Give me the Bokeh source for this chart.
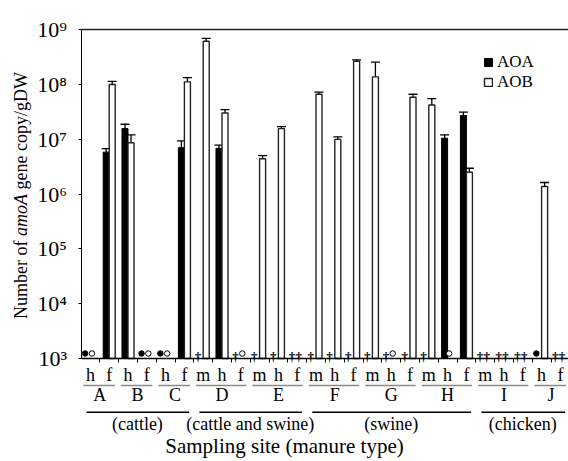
import math
from bokeh.plotting import figure
from bokeh.models import (Range1d, LinearAxis, FixedTicker, ColumnDataSource, Whisker, TeeHead,
                          Label, Legend, LegendItem)
from bokeh.core.properties import value
from bokeh.embed import file_html
from bokeh.resources import INLINE

# ---------------- data ----------------
sites = ["A", "A", "B", "B", "C", "C", "D", "D", "D", "E", "E", "E", "F", "F", "F",
         "G", "G", "G", "H", "H", "H", "I", "I", "I", "J", "J"]
samples = ["h", "f", "h", "f", "h", "f", "m", "h", "f", "m", "h", "f", "m", "h", "f",
           "m", "h", "f", "m", "h", "f", "m", "h", "f", "h", "f"]
site_names = ["A", "B", "C", "D", "E", "F", "G", "H", "I", "J"]
manure_types = ["(cattle)", "(cattle and swine)", "(swine)", "(chicken)"]
manure_sites = [["A", "B", "C"], ["D", "E"], ["F", "G", "H"], ["I", "J"]]

aoa_mean = [None, 5.8e6, 1.56e7, None, None, 7.0e6, None, 6.8e6, None, None, None, None, None,
            None, None, None, None, None, None, 1.04e7, 2.7e7, None, None, None, None, None]
aoa_upper = [None, 6.7e6, 1.87e7, None, None, 9.3e6, None, 7.8e6, None, None, None, None, None,
             None, None, None, None, None, None, 1.2e7, 3.1e7, None, None, None, None, None]
aob_mean = [None, 9.9e7, 8.6e6, None, None, 1.11e8, 6.1e8, 3.0e7, None, 4.4e6, 1.56e7, None, 6.6e7,
            9.9e6, 2.64e8, 1.37e8, None, 5.8e7, 4.2e7, None, 2.5e6, None, None, None, 1.37e6, None]
aob_upper = [None, 1.13e8, 1.2e7, None, None, 1.32e8, 6.9e8, 3.47e7, None, 5.0e6, 1.7e7, None, 7.2e7,
             1.1e7, 2.8e8, 2.54e8, None, 6.6e7, 5.5e7, None, 2.95e6, None, None, None, 1.62e6, None]
# symbols drawn at the baseline when no bar is shown
aoa_mark = ["●", "", "", "●", "●", "", "†", "", "†", "†", "†", "†", "†", "†", "†", "†", "†", "†",
            "†", "", "", "†", "†", "†", "●", "†"]
aob_mark = ["○", "", "", "○", "○", "", "", "", "○", "", "", "†", "", "", "", "", "○", "", "",
            "○", "", "†", "†", "†", "", "†"]
y_ticks = [1e3, 1e4, 1e5, 1e6, 1e7, 1e8, 1e9]
y_tick_labels = ["10³", "10⁴", "10⁵", "10⁶", "10⁷", "10⁸", "10⁹"]

# ---------------- layout (pixels) ----------------
W, H = 568, 461
X0_PX, PPU = 80.5, 18.8          # x of group 0 left edge, pixels per group
Y_TOP_PX, Y_BOT_PX = 29.0, 358.0  # pixel rows of 10^9 and 10^3
DEC = (Y_BOT_PX - Y_TOP_PX) / 6.0
SERIF = "Liberation Serif"

def y_at(py):
    """data value shown at pixel row py"""
    return 10 ** (9 - (py - Y_TOP_PX) / DEC)

x_start = -X0_PX / PPU
x_end = (W - X0_PX) / PPU

n = len(samples)
centers = [i + 0.5 for i in range(n)]

p = figure(width=W, height=H, output_backend="svg", toolbar_location=None,
           x_range=Range1d(x_start, x_end), y_range=Range1d(y_at(H), y_at(0)),
           y_axis_type="log", x_axis_type=None,
           min_border=0, min_border_left=0, min_border_right=0,
           min_border_top=0, min_border_bottom=0)
p.outline_line_color = None
p.grid.visible = False
p.background_fill_color = "white"
p.border_fill_color = "white"

off, bw = 0.16, 0.32
ia = [i for i, v in enumerate(aoa_mean) if v is not None]
src_a = ColumnDataSource(dict(x=[centers[i] - off for i in ia], top=[aoa_mean[i] for i in ia],
                              upper=[aoa_upper[i] for i in ia]))
ib = [i for i, v in enumerate(aob_mean) if v is not None]
src_b = ColumnDataSource(dict(x=[centers[i] + off for i in ib], top=[aob_mean[i] for i in ib],
                              upper=[aob_upper[i] for i in ib]))

for src in (src_a, src_b):
    p.add_layout(Whisker(source=src, base="x", lower="top", upper="upper", dimension="height",
                         line_color="black", line_width=1.3, lower_head=None,
                         upper_head=TeeHead(size=9, line_color="black", line_width=1.3)))

r_a = p.vbar(x="x", top="top", bottom=1e3, width=bw, source=src_a,
             fill_color="black", line_color="black", line_width=1)
r_b = p.vbar(x="x", top="top", bottom=1e3, width=bw, source=src_b,
             fill_color="white", line_color="#222222", line_width=1.4)

# baseline symbols
mo_a, mo_b = -0.28, 0.08
filled_x, open_x, dag_x = [], [], []
for i in range(n):
    for mk, dx in ((aoa_mark[i], mo_a), (aob_mark[i], mo_b)):
        if mk == "●":
            filled_x.append(centers[i] + dx)
        elif mk == "○":
            open_x.append(centers[i] + dx)
        elif mk == "†":
            dag_x.append(centers[i] + dx)
mk_y = y_at(Y_BOT_PX - 5)
p.scatter(x=filled_x, y=[mk_y] * len(filled_x), size=5.5, marker="circle",
          fill_color="black", line_color="black")
p.scatter(x=open_x, y=[mk_y] * len(open_x), size=5.5, marker="circle",
          fill_color="white", line_color="black", line_width=1)
p.text(x=dag_x, y=[y_at(Y_BOT_PX - 2.5)] * len(dag_x), text=["†"] * len(dag_x),
       text_font=value(SERIF), text_font_size="13px", text_font_style="bold",
       text_align="center", text_baseline="alphabetic", text_color="black")

# ---------------- y axis ----------------
yax = p.yaxis[0]
yax.fixed_location = 0
yax.bounds = (1e3, 1e9)
yax.ticker = FixedTicker(ticks=y_ticks)
yax.major_label_overrides = {t: s for t, s in zip(y_ticks, y_tick_labels)}
yax.major_label_text_font = SERIF
yax.major_label_text_font_size = "22px"
yax.major_label_text_color = "black"
yax.major_tick_out = 3
yax.major_tick_in = 0
yax.minor_tick_line_color = None
yax.axis_line_color = "black"
yax.major_tick_line_color = "black"
yax.major_label_standoff = 11

# top frame line as an axis without ticks
top_ax = LinearAxis(fixed_location=1e9, bounds=(0, x_end), ticker=FixedTicker(ticks=[]))
top_ax.axis_line_color = "#222222"
top_ax.axis_line_width = 1.5
top_ax.major_tick_line_color = None
top_ax.minor_tick_line_color = None
p.add_layout(top_ax, "above")

# y axis title (with italic gene name)
lab_x = (20 - X0_PX) / PPU
pieces = [("Number of", "normal", 318.5), ("amoA", "italic", 235.5), ("gene copy/gDW", "normal", 189.0)]
for txt, style, py in pieces:
    p.add_layout(Label(x=lab_x, y=y_at(py), text=txt, angle=math.pi / 2,
                       text_font=SERIF, text_font_size="18px", text_font_style=style,
                       text_align="left", text_baseline="middle", text_color="black"))

# ---------------- x axes ----------------
ax1 = LinearAxis(fixed_location=1e3, bounds=(0, x_end),
                 ticker=FixedTicker(ticks=centers, minor_ticks=list(range(1, n))),
                 major_label_overrides={c: s for c, s in zip(centers, samples)})
ax1.axis_line_color = "black"
ax1.axis_line_width = 1.3
ax1.major_tick_line_color = None
ax1.major_tick_out = 4
ax1.major_tick_in = 0
ax1.minor_tick_line_color = "black"
ax1.minor_tick_out = 4
ax1.minor_tick_in = 0
ax1.major_label_standoff = 2
ax1.major_label_text_font = SERIF
ax1.major_label_text_font_size = "18px"
ax1.major_label_text_color = "black"
p.add_layout(ax1, "below")

site_first = {s: sites.index(s) for s in site_names}
site_last = {s: len(sites) - 1 - sites[::-1].index(s) for s in site_names}
site_centers = [(site_first[s] + site_last[s] + 1) / 2.0 for s in site_names]
ax2 = LinearAxis(fixed_location=y_at(384), ticker=FixedTicker(ticks=site_centers),
                 major_label_overrides={c: s for c, s in zip(site_centers, site_names)})
ax2.axis_line_color = None
ax2.major_tick_line_color = None
ax2.minor_tick_line_color = None
ax2.major_tick_out = 0
ax2.minor_tick_out = 0
ax2.major_label_standoff = 0
ax2.major_label_text_font = SERIF
ax2.major_label_text_font_size = "18px"
ax2.major_label_text_color = "black"
p.add_layout(ax2, "below")

m_first = [site_first[g[0]] for g in manure_sites]
m_last = [site_last[g[-1]] for g in manure_sites]
m_centers = [(a + b + 1) / 2.0 for a, b in zip(m_first, m_last)]
ax3 = LinearAxis(fixed_location=y_at(413), ticker=FixedTicker(ticks=m_centers),
                 major_label_overrides={c: s for c, s in zip(m_centers, manure_types)},
                 axis_label="Sampling site (manure type)")
ax3.axis_line_color = None
ax3.major_tick_line_color = None
ax3.minor_tick_line_color = None
ax3.major_tick_out = 0
ax3.minor_tick_out = 0
ax3.major_label_standoff = 0
ax3.major_label_text_font = SERIF
ax3.major_label_text_font_size = "18px"
ax3.major_label_text_color = "black"
ax3.axis_label_standoff = -3
ax3.axis_label_text_font = SERIF
ax3.axis_label_text_font_size = "21px"
ax3.axis_label_text_font_style = "normal"
ax3.axis_label_text_color = "black"
p.add_layout(ax3, "below")

# group underlines
g_src = ColumnDataSource(dict(base=[y_at(385)] * len(site_names),
                              lower=[site_first[s] + 0.12 for s in site_names],
                              upper=[site_last[s] + 1 - 0.2 for s in site_names]))
p.add_layout(Whisker(source=g_src, base="base", lower="lower", upper="upper", dimension="width",
                     lower_head=None, upper_head=None, line_color="#8a8a8a", line_width=1.3))
m_src = ColumnDataSource(dict(base=[y_at(411.7)] * len(manure_types),
                              lower=[a + 0.3 for a in m_first],
                              upper=[b + 1 - 0.25 for b in m_last]))
p.add_layout(Whisker(source=m_src, base="base", lower="lower", upper="upper", dimension="width",
                     lower_head=None, upper_head=None, line_color="black", line_width=1.5))

# ---------------- legend ----------------
legend = Legend(items=[LegendItem(label="AOA", renderers=[r_a]), LegendItem(label="AOB", renderers=[r_b])],
                location=(483, H - 92), padding=0, spacing=0, margin=0,
                glyph_width=10, glyph_height=10, label_height=20, label_standoff=4,
                label_text_font=SERIF, label_text_font_size="17px", label_text_color="black",
                border_line_color=None, background_fill_alpha=0)
p.add_layout(legend)

open("out.html", "w").write(file_html(p, INLINE))
